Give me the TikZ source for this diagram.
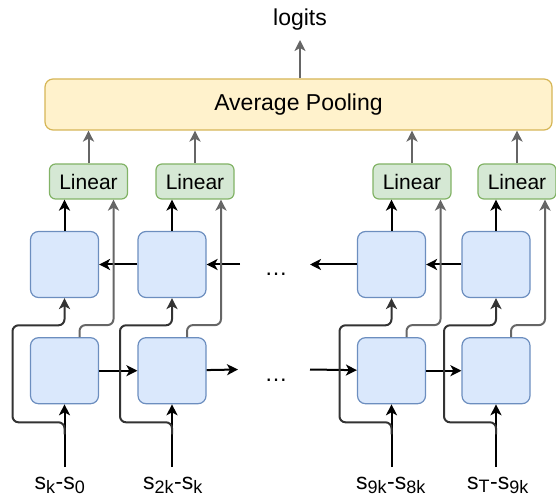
\documentclass[tikz,border=0pt]{standalone}
\usepackage{fontspec}
\setmainfont{Liberation Sans}
\usetikzlibrary{positioning,arrows.meta}
\definecolor{cellfill}{HTML}{DAE8FC}
\definecolor{celldraw}{HTML}{6C8EBF}
\definecolor{linfill}{HTML}{D5E8D4}
\definecolor{lindraw}{HTML}{82B366}
\definecolor{poolfill}{HTML}{FFF2CC}
\definecolor{pooldraw}{HTML}{D6B656}
\definecolor{arrgray}{HTML}{666666}
\definecolor{skipgray}{HTML}{333333}

\begin{document}
\begin{tikzpicture}[x=1pt, y=-1pt,
  cell/.style={draw=celldraw, fill=cellfill, rounded corners=8pt, line width=1.2pt, minimum width=68pt, minimum height=66pt},
  lin/.style={draw=lindraw, fill=linfill, rounded corners=6pt, line width=1.2pt, minimum width=78pt, minimum height=35pt, font=\fontsize{21}{25}\selectfont},
  pool/.style={draw=pooldraw, fill=poolfill, rounded corners=8pt, line width=1.2pt, minimum width=507pt, minimum height=51pt, font=\fontsize{23}{27}\selectfont},
  lbl/.style={font=\fontsize{23}{27}\selectfont, inner sep=1pt},
  arr/.style={-{Stealth[length=11pt, width=11pt, inset=3pt]}, line width=2pt},
  garr/.style={arr, draw=arrgray},
  sarr/.style={arr, draw=skipgray, rounded corners=6pt}]
\useasboundingbox (0,0) rectangle (556,502);
\node[pool] (pool) at (298.5,104.5) {Average Pooling};
\node[lbl, anchor=base] (logits) at (300,26) {logits};
\node[cell] (top1) at (64.5,264.5) {};
\node[cell] (top2) at (172,264.5) {};
\node[cell] (top3) at (391.5,264.5) {};
\node[cell] (top4) at (496,264.5) {};
\node[cell, below=39pt of top1] (bot1) {};
\node[cell, below=39pt of top2] (bot2) {};
\node[cell, below=39pt of top3] (bot3) {};
\node[cell, below=39pt of top4] (bot4) {};
\node[lin] (lin1) at (88.5,181.5) {Linear};
\node[lin] (lin2) at (195,181.5) {Linear};
\node[lin] (lin3) at (412,181.5) {Linear};
\node[lin] (lin4) at (517,181.5) {Linear};
\node[lbl, anchor=base] (in1) at (60,489) {s\textsubscript{\fontsize{18}{20}\selectfont k}-s\textsubscript{\fontsize{18}{20}\selectfont 0}};
\node[lbl, anchor=base] (in2) at (173,489) {s\textsubscript{\fontsize{18}{20}\selectfont 2k}-s\textsubscript{\fontsize{18}{20}\selectfont k}};
\node[lbl, anchor=base] (in3) at (391,489) {s\textsubscript{\fontsize{18}{20}\selectfont 9k}-s\textsubscript{\fontsize{18}{20}\selectfont 8k}};
\node[lbl, anchor=base] (in4) at (498,489) {s\textsubscript{\fontsize{18}{20}\selectfont T}-s\textsubscript{\fontsize{18}{20}\selectfont 9k}};
\node[lbl, anchor=base] (dotsT) at (276,276) {\dots};
\node[lbl, anchor=base] (dotsB) at (276,381) {\dots};
\coordinate (bgapL) at (238,369.5); \coordinate (bgapR) at (310,369.5);
\coordinate (tgapL) at (240,264.5); \coordinate (tgapR) at (310,264.5);
\draw[garr] (pool.north -| logits) -- (logits.north |- 0,40);
\draw[arr] (bot1) -- (bot2); \draw[arr] (bot2) -- (bgapL); \draw[arr] (bgapR) -- (bot3); \draw[arr] (bot3) -- (bot4);
\draw[arr] (top2) -- (top1); \draw[arr] (tgapL) -- (top2); \draw[arr] (top3) -- (tgapR); \draw[arr] (top4) -- (top3);
\foreach \i in {1,...,4}{
  \draw[arr] (bot\i.south |- 0,467) -- (bot\i.south);
  \draw[sarr] ([yshift=-30pt]bot\i.south) -- ++(0,-12) -- ++(-52,0) -- ++(0,-97) -- ++(52,0) -- (top\i.south);
  \draw[garr, rounded corners=6pt] ([xshift=15pt]bot\i.north) -- ++(0,-12) -- ++(34,0) coordinate (g\i) -- (g\i |- lin\i.south);
  \draw[arr] (top\i.north) -- (top\i.north |- lin\i.south);
  \draw[garr] (lin\i.north) -- (lin\i.north |- pool.south);
}
\end{tikzpicture}
\end{document}
